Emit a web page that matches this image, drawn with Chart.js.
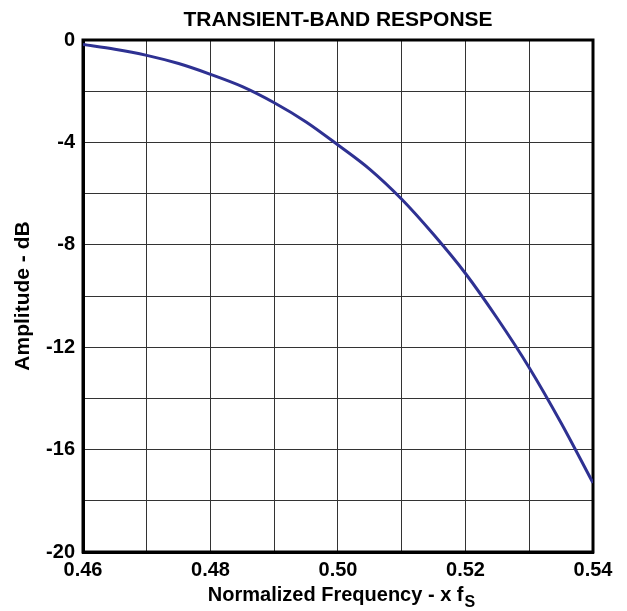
<!DOCTYPE html>
<html>
<head>
<meta charset="utf-8">
<script src="https://cdn.jsdelivr.net/npm/chart.js@4.4.0/dist/chart.umd.min.js"></script>
<style>
  html, body { margin: 0; padding: 0; background: #fff; }
  #wrap { width: 627px; height: 611px; }
</style>
</head>
<body>
<div id="wrap"><canvas id="chart" width="627" height="611"></canvas></div>
<script>
// normalized frequency (x fS) and amplitude in dB
const freq = [0.46, 0.465, 0.47, 0.475, 0.48, 0.485, 0.49, 0.495, 0.50,
              0.505, 0.51, 0.515, 0.52, 0.525, 0.53, 0.535, 0.54]
const amplitude = [-0.18, -0.36, -0.6, -0.92, -1.34, -1.82, -2.45, -3.2, -4.1,
                   -5.05, -6.22, -7.6, -9.12, -10.88, -12.8, -14.96, -17.3]

const xTickLabels = ['0.46', '0.48', '0.50', '0.52', '0.54']
const yTickLabels = ['0', '-4', '-8', '-12', '-16', '-20']

const FONT = '"Liberation Sans", Arial, sans-serif'

// frame, title over the plot, x title with subscript
const extras = {
  id: 'extras',
  beforeDatasetsDraw(chart) {
    const { ctx, chartArea: a } = chart
    ctx.save()
    ctx.strokeStyle = '#000'
    ctx.lineWidth = 3
    ctx.strokeRect(a.left, a.top, a.right - a.left, a.bottom - a.top)
    ctx.restore()
  },
  afterDraw(chart) {
    const { ctx, chartArea: a } = chart
    const cx = (a.left + a.right) / 2
    ctx.save()
    ctx.fillStyle = '#000'
    ctx.textAlign = 'center'
    ctx.textBaseline = 'middle'
    ctx.font = 'bold 21px ' + FONT
    ctx.fillText('TRANSIENT-BAND RESPONSE', cx, 20)

    const main = 'Normalized Frequency - x f'
    const sub = 'S'
    ctx.textAlign = 'left'
    ctx.textBaseline = 'alphabetic'
    ctx.font = 'bold 20px ' + FONT
    const w1 = ctx.measureText(main).width
    ctx.font = 'bold 16px ' + FONT
    const w2 = ctx.measureText(sub).width
    const x0 = cx - (w1 + w2) / 2 + 3
    ctx.font = 'bold 20px ' + FONT
    ctx.fillText(main, x0, 601)
    ctx.font = 'bold 16px ' + FONT
    ctx.fillText(sub, x0 + w1 + 1, 607)
    ctx.restore()
  }
}

new Chart(document.getElementById('chart'), {
  type: 'line',
  data: {
    datasets: [{
      data: freq.map((f, i) => ({ x: f, y: amplitude[i] })),
      borderColor: '#2e3192',
      borderWidth: 3,
      pointRadius: 0,
      cubicInterpolationMode: 'monotone',
      fill: false
    }]
  },
  options: {
    responsive: false,
    animation: false,
    layout: { padding: { left: 0, right: 34, top: 40, bottom: 0 } },
    plugins: {
      legend: { display: false },
      tooltip: { enabled: false }
    },
    scales: {
      x: {
        type: 'linear',
        min: 0.46,
        max: 0.54,
        ticks: {
          stepSize: 0.01,
          autoSkip: false,
          maxRotation: 0,
          padding: 6,
          color: '#000',
          font: { family: FONT, size: 20, weight: 'bold' },
          callback: v => {
            const s = Number(v).toFixed(2)
            return xTickLabels.includes(s) ? s : ''
          }
        },
        grid: { color: '#333', lineWidth: 1, drawTicks: false },
        border: { color: '#000', width: 3 },
        afterFit: s => { s.height = 59 }
      },
      y: {
        min: -20,
        max: 0,
        ticks: {
          stepSize: 2,
          autoSkip: false,
          padding: 8,
          color: '#000',
          font: { family: FONT, size: 20, weight: 'bold' },
          callback: v => {
            const s = String(Math.round(v))
            return yTickLabels.includes(s) ? s : ''
          }
        },
        grid: { color: '#333', lineWidth: 1, drawTicks: false },
        border: { color: '#000', width: 3 },
        title: {
          display: true,
          text: 'Amplitude - dB',
          color: '#000',
          font: { family: FONT, size: 21, weight: 'bold', lineHeight: 1.2 },
          padding: { top: 11, bottom: 0 }
        },
        afterFit: s => { s.width = 83 }
      }
    }
  },
  plugins: [extras]
})
</script>
</body>
</html>
